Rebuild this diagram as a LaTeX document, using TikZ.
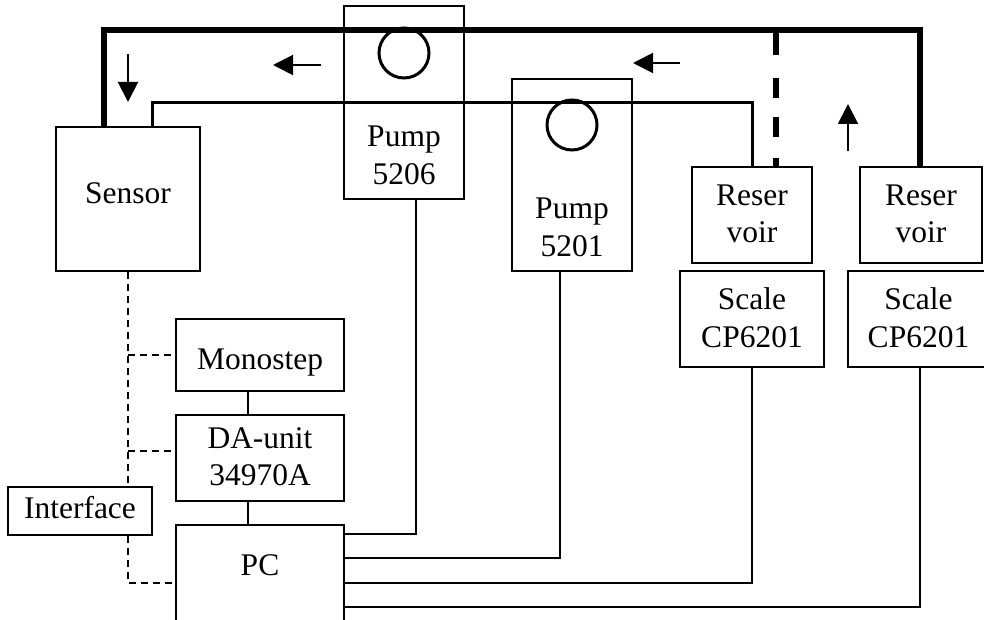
\documentclass[tikz,border=0pt]{standalone}
\usepackage{fontspec}
\setmainfont{Liberation Serif}
\usetikzlibrary{arrows.meta}
\begin{document}
\begin{tikzpicture}[x=0.5pt,y=-0.5pt,
  box/.style={draw,line width=1pt,inner sep=0pt,rectangle},
  lbl/.style={inner sep=0pt,align=center,font=\fontsize{15.75pt}{18.75pt}\selectfont},
  pipe/.style={line width=3pt,line join=miter},
  tube/.style={line width=1.5pt,line join=miter},
  wire/.style={line width=1pt,line join=miter},
  sig/.style={line width=1pt,dash pattern=on 3.5pt off 2.5pt},
  flow/.style={line width=1pt,-{Triangle[length=10pt,width=10pt]}},
  roller/.style={draw,circle,line width=1.5pt,minimum size=25pt,inner sep=0pt}]
\path[use as bounding box] (0,0) rectangle (984,620);
\clip (0,0) rectangle (984,620);
% boxes
\node[box,minimum width=72pt,minimum height=72pt] (sensor) at (128,199) {};
\node[box,minimum width=60pt,minimum height=96.5pt] (pumpA) at (404,102.5) {};
\node[box,minimum width=60pt,minimum height=96pt] (pumpB) at (572,175) {};
\node[box,minimum width=60pt,minimum height=48pt] (resA) at (752,215) {};
\node[box,minimum width=61pt,minimum height=48pt] (resB) at (921,215) {};
\node[box,minimum width=72pt,minimum height=48pt] (scaleA) at (752,319) {};
\node[box,minimum width=72pt,minimum height=48pt] (scaleB) at (920,319) {};
\node[box,minimum width=84pt,minimum height=36pt] (mono) at (260,355) {};
\node[box,minimum width=84pt,minimum height=43pt] (da) at (260,458) {};
\node[box,minimum width=84pt,minimum height=62.5pt] (pc) at (260,587.5) {};
% rollers
\node[roller] (rollA) at (404,53) {};
\node[roller] (rollB) at (572,125) {};
% coordinates
\coordinate (tl) at (104,30);
\coordinate (tr) at (920,30);
\coordinate (dtop) at (776,30);
\coordinate (il) at (152,103);
\coordinate (ir) at (752,103);
\coordinate (wA) at (416,534);
\coordinate (wB) at (560,558);
\coordinate (wC) at (752,583);
\coordinate (wD) at (920,607);
\coordinate (sl) at (128,583);
\coordinate (a1s) at (128,54);
\coordinate (a1e) at (128,102);
\coordinate (a2s) at (321,65);
\coordinate (a2e) at (273,65);
\coordinate (a3s) at (680,63);
\coordinate (a3e) at (633,63);
\coordinate (a4s) at (848,151);
\coordinate (a4e) at (848,104);
% pipes
\draw[pipe] (sensor.north -| tl) -- (tl) -- (tr) -- (tr |- resB.north);
\draw[pipe,dash pattern=on 12.5pt off 11.5pt on 10pt off 9.5pt on 10pt off 10.5pt on 10pt off 10pt] (dtop) -- (dtop |- resA.north);
\draw[tube] (sensor.north -| il) -- (il) -- (ir) -- (resA.north);
% wires
\draw[wire] (pumpA.south -| wA) -- (wA) -- (wA -| pc.east);
\draw[wire] (pumpB.south -| wB) -- (wB) -- (wB -| pc.east);
\draw[wire] (scaleA.south) -- (wC) -- (wC -| pc.east);
\draw[wire] (scaleB.south) -- (wD) -- (wD -| pc.east);
\draw[wire] ([xshift=-6pt]mono.south) -- ([xshift=-6pt]da.north);
\draw[wire] ([xshift=-6pt]da.south) -- ([xshift=-6pt]pc.north);
% signal lines
\draw[sig] (sensor.south) -- (sl) -- (sl -| pc.west);
\draw[sig] (mono.west -| sl) -- (mono.west);
\draw[sig] ([yshift=3.5pt]da.west -| sl) -- ([yshift=3.5pt]da.west);
\node[box,fill=white,minimum width=72pt,minimum height=24pt] (iface) at (80,511) {};
% flow arrows
\draw[flow] (a1s) -- (a1e);
\draw[flow] (a2s) -- (a2e);
\draw[flow] (a3s) -- (a3e);
\draw[flow] (a4s) -- (a4e);
% labels
\node[lbl,anchor=base] (sensorT) at (128,204) {Sensor};
\node[lbl] (pumpAT) at (404,155.5) {Pump\\5206};
\node[lbl] (pumpBT) at (572,227.4) {Pump\\5201};
\node[lbl] (resAT) at (752,214) {Reser\\voir};
\node[lbl] (resBT) at (921,214) {Reser\\voir};
\node[lbl] (scaleAT) at (752,317.6) {Scale\\CP6201};
\node[lbl] (scaleBT) at (918.5,317.6) {Scale\\CP6201};
\node[lbl,anchor=base] (monoT) at (260,369) {Monostep};
\node[lbl] (daT) at (260,456.6) {DA-unit\\34970A};
\node[lbl,anchor=base] (ifaceT) at (80,518) {Interface};
\node[lbl,anchor=base] (pcT) at (260,575) {PC};
\end{tikzpicture}
\end{document}
